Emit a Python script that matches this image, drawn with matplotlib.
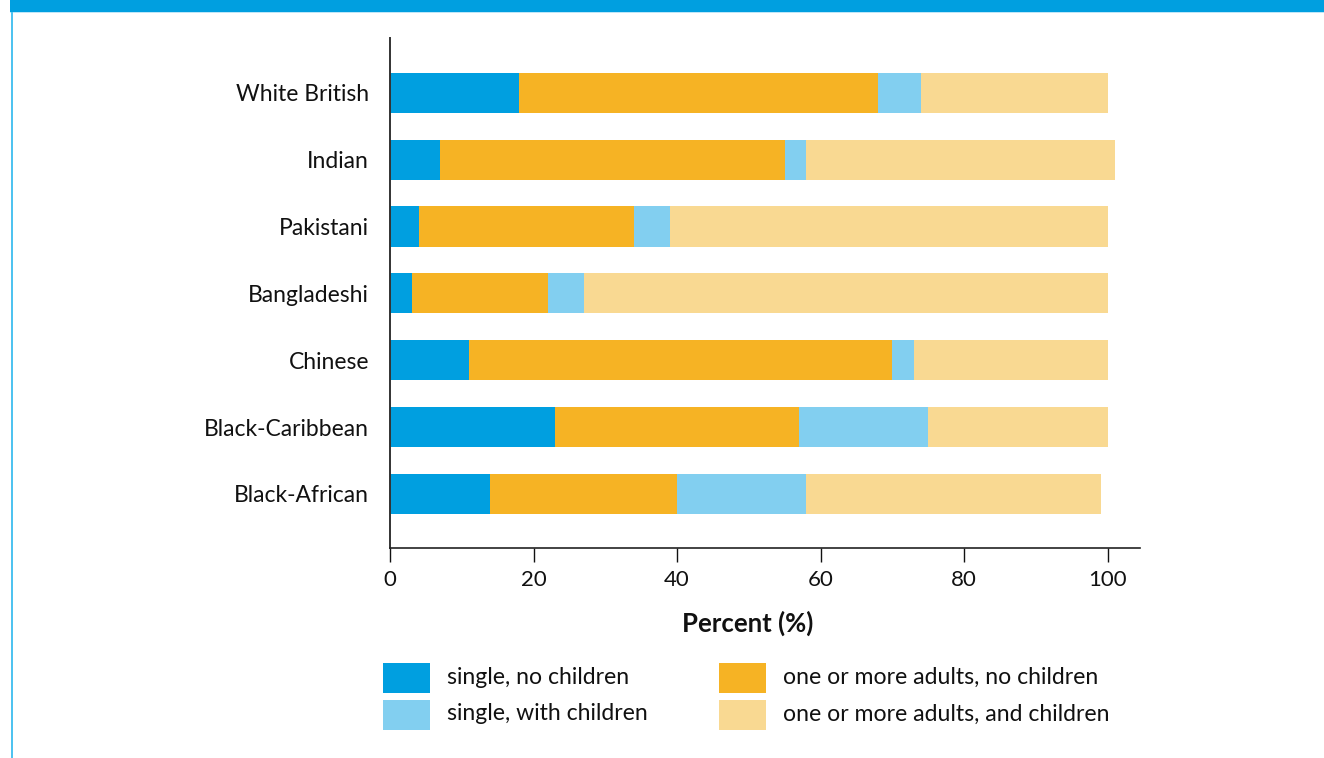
import matplotlib
matplotlib.use("Agg")
import matplotlib.pyplot as plt
from matplotlib.patches import Rectangle
import numpy as np

plt.rcParams["font.family"] = ["Lato", "DejaVu Sans"]

groups = ["White British", "Indian", "Pakistani", "Bangladeshi",
          "Chinese", "Black-Caribbean", "Black-African"]
single_no_children = [18, 7, 4, 3, 11, 23, 14]
adults_no_children = [50, 48, 30, 19, 59, 34, 26]
single_with_children = [6, 3, 5, 5, 3, 18, 18]
adults_with_children = [26, 43, 61, 73, 27, 25, 41]

series = [
    ("single, no children", single_no_children, "#009FE0"),
    ("one or more adults, no children", adults_no_children, "#F6B324"),
    ("single, with children", single_with_children, "#82CFF0"),
    ("one or more adults, and children", adults_with_children, "#F9D992"),
]

W, H = 1324, 758
fig = plt.figure(figsize=(W / 100, H / 100), dpi=100)
fig.patch.set_facecolor("white")


def px(x, y, w, h):
    # pixel box (top-left origin) -> figure fraction
    return [x / W, 1 - (y + h) / H, w / W, h / H]


ax = fig.add_axes(px(390, 38, 750, 510))

ypos = np.arange(len(groups))
left = np.zeros(len(groups))
for name, vals, col in series:
    vals = np.array(vals, dtype=float)
    ax.barh(ypos, vals, left=left, height=0.6, color=col, edgecolor="none")
    left += vals

ax.set_xlim(0, 104.5)
ax.set_ylim(6.81, -0.82)
ax.set_yticks(ypos)
ax.set_yticklabels(groups, fontsize=16.5, color="#111111")
ax.tick_params(axis="y", length=0, pad=15)
ax.set_xticks([0, 20, 40, 60, 80, 100])
ax.tick_params(axis="x", direction="out", length=10, width=1.0,
               labelsize=16, pad=6, colors="#111111")
for s in ["top", "right"]:
    ax.spines[s].set_visible(False)
ax.spines["left"].set_linewidth(1.4)
ax.spines["left"].set_color("#333333")
ax.spines["bottom"].set_linewidth(1.2)
ax.spines["bottom"].set_color("#222222")

fig.text(748 / W, 1 - 623 / H, "Percent (%)", ha="center", va="center",
         fontsize=18.5, fontweight="bold", color="#111111")

# legend, two columns
legend_slots = [(383, 663), (719, 663), (383, 700), (719, 700)]
for (lx, ly), (name, _, col) in zip(legend_slots, series):
    fig.add_artist(Rectangle((lx / W, 1 - (ly + 30) / H), 47 / W, 30 / H,
                             transform=fig.transFigure, facecolor=col,
                             edgecolor="none"))
    fig.text((lx + 64) / W, 1 - (ly + 14) / H, name, ha="left", va="center",
             fontsize=16.6, color="#111111")

# header banner and side rule
fig.add_artist(Rectangle((10 / W, 1 - 12 / H), 1, 12 / H,
                         transform=fig.transFigure, facecolor="#009FE0",
                         edgecolor="none"))
fig.add_artist(Rectangle((10 / W, 1 - 13 / H), 1, 1 / H,
                         transform=fig.transFigure, facecolor="#BFE6F7",
                         edgecolor="none"))
fig.add_artist(Rectangle((11 / W, 0), 2 / W, 1 - 12 / H,
                         transform=fig.transFigure, facecolor="#4FC3F0",
                         edgecolor="none"))

fig.savefig("out.png", dpi=100)
